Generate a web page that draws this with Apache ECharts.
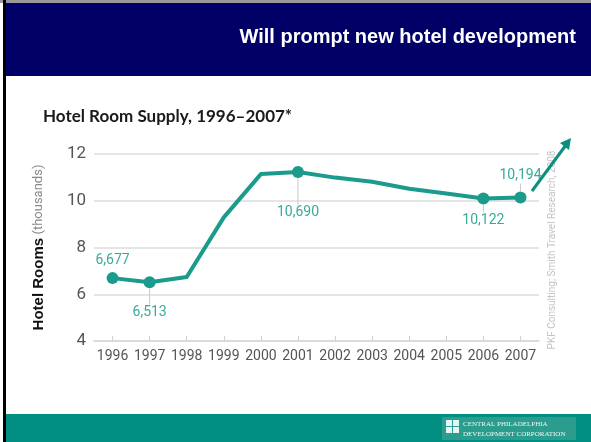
<!DOCTYPE html>
<html>
<head>
<meta charset="utf-8">
<script src="https://cdn.jsdelivr.net/npm/echarts@6/dist/echarts.min.js"></script>
<style>
html,body{margin:0;padding:0;background:#fff;}
#chart{width:591px;height:442px;}
</style>
</head>
<body>
<div id="chart"></div>
<script>
const years = ['1996','1997','1998','1999','2000','2001','2002','2003','2004','2005','2006','2007'];
const rooms = [6.69, 6.51, 6.74, 9.29, 11.14, 11.23, 10.99, 10.81, 10.51, 10.31, 10.10, 10.14];
const labelText = ['6,677','6,513','','','','10,690','','','','','10,122','10,194'];
const labelSide = ['top','bottom','','','','bottom','','','','','bottom','top'];
const yTicks = [4, 6, 8, 10, 12];

const teal = '#1a9b8b';
// leader line lengths (px) – style only
const leader = {0: 0, 1: 16, 5: 27, 10: 8, 11: 8};

function fmt(i) {
  const t = '{t|' + labelText[i] + '}';
  const h = leader[i];
  if (!h) return t;
  const l = '{l' + i + '|}';
  return labelSide[i] === 'top' ? t + '\n' + l : l + '\n' + t;
}

const rich = {
  t: {fontFamily: "'Roboto', sans-serif", fontSize: 14, color: '#3aa99b', lineHeight: 16, align: 'center'}
};
Object.keys(leader).forEach(k => {
  if (leader[k]) rich['l' + k] = {width: 1, height: leader[k], lineHeight: leader[k], backgroundColor: '#c8c8c8', align: 'center'};
});

const seriesData = rooms.map((v, i) => {
  const marked = labelText[i] !== '';
  return {
    value: v,
    symbolSize: marked ? 12 : 0,
    label: marked ? {
      show: true,
      formatter: fmt(i),
      position: labelSide[i],
      distance: i === 0 ? 4 : 0,
      rich: rich
    } : {show: false}
  };
});

const chart = echarts.init(document.getElementById('chart'), null, {renderer: 'canvas'});
const font = "'Roboto', sans-serif";

chart.setOption({
  backgroundColor: '#ffffff',
  animation: false,
  grid: {left: 94, right: 52, top: 154, bottom: 101},
  xAxis: {
    type: 'category',
    data: years,
    boundaryGap: true,
    axisLine: {show: true, lineStyle: {color: '#d8d8d8', width: 1.5}},
    axisTick: {show: true, inside: true, alignWithLabel: true, length: 5, lineStyle: {color: '#d0d0d0'}},
    axisLabel: {color: '#555', fontFamily: font, fontSize: 14, margin: 8, interval: 0}
  },
  yAxis: {
    type: 'value',
    min: yTicks[0],
    max: yTicks[yTicks.length - 1],
    interval: 2,
    axisLine: {show: false},
    axisTick: {show: false},
    axisLabel: {color: '#555', fontFamily: font, fontSize: 17, margin: 8},
    splitLine: {lineStyle: {color: '#dcdcdc', width: 1.5}},
    name: '{b|Hotel Rooms} {g|(thousands)}',
    nameLocation: 'middle',
    nameGap: 48,
    nameRotate: 90,
    nameTextStyle: {
      rich: {
        b: {fontFamily: "'Liberation Sans',Arial,sans-serif", fontWeight: 'bold', fontSize: 15, color: '#111'},
        g: {fontFamily: font, fontSize: 13, color: '#888'}
      }
    }
  },
  series: [{
    type: 'line',
    data: seriesData,
    symbol: 'circle',
    smooth: false,
    lineStyle: {color: teal, width: 4, join: 'round'},
    itemStyle: {color: teal}
  }],
  graphic: [
    {type: 'rect', shape: {x: 0, y: 0, width: 591, height: 3}, style: {fill: '#9a9a9a'}},
    {type: 'rect', shape: {x: 3, y: 0, width: 3, height: 442}, style: {fill: '#000'}},
    {type: 'rect', shape: {x: 6, y: 3, width: 585, height: 73}, style: {fill: '#000066'}},
    {type: 'text', style: {text: 'Will prompt new hotel development', x: 576, y: 37, align: 'right', verticalAlign: 'middle',
      fill: '#fff', font: "bold 20px 'Liberation Sans', Arial, sans-serif"}},
    {type: 'text', style: {text: 'Hotel Room Supply, 1996\u20132007*', x: 43, y: 117, verticalAlign: 'middle',
      fill: '#1a1a1a', font: "bold 17px 'Lato', 'Noto Sans', sans-serif"}},
    {type: 'text', rotation: Math.PI / 2, x: 552, y: 250,
      style: {text: 'PKF Consulting; Smith Travel Research, 2008', align: 'center', verticalAlign: 'middle',
      fill: '#c4c4c4', font: "10px 'Roboto', sans-serif"}},
    {type: 'line', shape: {x1: 532, y1: 191, x2: 566, y2: 145}, style: {stroke: '#0b8f7e', lineWidth: 3}},
    {type: 'polygon', shape: {points: [[571, 138], [560, 143], [569, 150]]}, style: {fill: '#0b8f7e'}},
    {type: 'rect', shape: {x: 6, y: 414, width: 585, height: 28}, style: {fill: '#008f80'}},
    {type: 'rect', shape: {x: 442, y: 417, width: 134, height: 23}, style: {fill: '#2a9d8f'}},
    {type: 'rect', shape: {x: 446, y: 420, width: 6, height: 6}, style: {fill: '#e8f4f2'}},
    {type: 'rect', shape: {x: 453, y: 420, width: 6, height: 6}, style: {fill: '#e8f4f2'}},
    {type: 'rect', shape: {x: 446, y: 427, width: 6, height: 6}, style: {fill: '#e8f4f2'}},
    {type: 'rect', shape: {x: 453, y: 427, width: 6, height: 6}, style: {fill: '#e8f4f2'}},
    {type: 'text', style: {text: 'CENTRAL PHILADELPHIA', x: 463, y: 424, verticalAlign: 'middle',
      fill: '#eef7f5', font: "7px 'Liberation Serif', serif"}},
    {type: 'text', style: {text: 'DEVELOPMENT CORPORATION', x: 463, y: 434, verticalAlign: 'middle',
      fill: '#eef7f5', font: "7px 'Liberation Serif', serif"}}
  ]
});
</script>
</body>
</html>
